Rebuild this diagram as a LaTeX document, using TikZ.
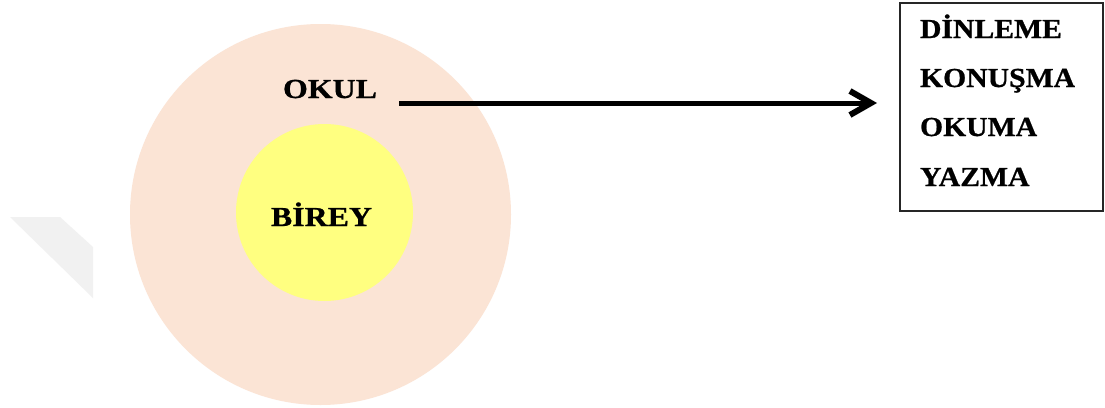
\documentclass[tikz,border=0pt]{standalone}
\usepackage{fontspec}
\setmainfont{Liberation Serif}
\newfontfamily\lblfont[FakeStretch=1.08, FakeBold=0.8]{Liberation Serif}
\newfontfamily\ringfont[FakeStretch=1.16, FakeBold=0.8]{Liberation Serif}
\usetikzlibrary{arrows.meta}

\definecolor{peach}{HTML}{FBE4D5}
\definecolor{paleyellow}{HTML}{FFFF80}
\definecolor{markgray}{HTML}{F1F1F1}

\tikzset{
  ring/.style={circle, inner sep=0pt, outer sep=0pt, draw=none},
  lbl/.style={inner sep=0pt, outer sep=0pt, font=\lblfont\bfseries\fontsize{27.5pt}{27.5pt}\selectfont, text=black},
  ringlbl/.style={lbl, font=\ringfont\bfseries\fontsize{27.5pt}{27.5pt}\selectfont},
  listbox/.style={draw=black!85, line width=1.4pt, inner sep=0pt, fill=white},
  bigarrow/.style={line width=5pt, -{Straight Barb[length=21pt,width=24pt,line width=6pt]}},
}

\begin{document}
\begin{tikzpicture}[x=1pt, y=-1pt]
  \useasboundingbox (0,0) rectangle (1105,407);
  \fill[white] (0,0) rectangle (1105,407);

  % faint corner mark at the left edge
  \fill[markgray] (10,217) -- (60,217) -- (93,247) -- (93,298) -- cycle;

  % nested circles
  \node[ring, fill=peach, minimum size=381pt] (school) at (320.5,214.5) {};
  \node[ring, fill=paleyellow, minimum size=177pt] (person) at (324.5,212.5) {};

  \node[ringlbl, anchor=base] (okul) at (330,98) {OKUL};
  \node[ringlbl, anchor=base] (birey) at (321.5,226) {BİREY};

  % skills box
  \node[listbox, minimum width=203pt, minimum height=208pt] (skills) at (1001.5,107) {};
  \node[lbl, anchor=base west] (dinleme) at (920,38) {DİNLEME};
  \node[lbl, anchor=base west] (konusma) at (920,87) {KONUŞMA};
  \node[lbl, anchor=base west] (okuma) at (920,136) {OKUMA};
  \node[lbl, anchor=base west] (yazma) at (920,186) {YAZMA};

  % arrow from the school label toward the skills
  \coordinate (arrowstart) at (399,103);
  \coordinate (arrowend) at (877,103);
  \draw[bigarrow] (arrowstart) -- (arrowend);
\end{tikzpicture}
\end{document}
